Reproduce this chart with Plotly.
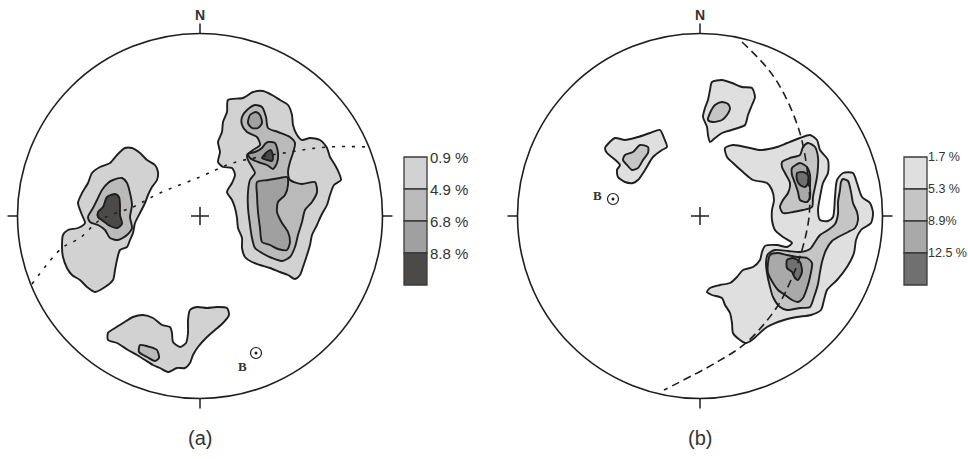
import plotly.graph_objects as go

# ---------------- data (net units: primitive circle radius R, centre at 0,0, north up) ----
R = 182.5

A_LEVEL_LABELS = ["0.9 %", "4.9 %", "6.8 %", "8.8 %"]
B_LEVEL_LABELS = ["1.7 %", "5.3 %", "8.9%", "12.5 %"]
A_COLORS = ["#d2d2d2", "#bababa", "#a0a0a0", "#4c4949"]
B_COLORS = ["#dfdfdf", "#c5c5c5", "#a9a9a9", "#707070"]

# ---- panel (a) contour outlines ----
a_west_1 = [(-68, 68), (-60, 63), (-53, 56), (-45, 51), (-42, 44), (-43, 36), (-48, 29), (-52, 21),
            (-55, 13), (-60, 3), (-65, -7), (-67, -17), (-70, -24), (-73, -31), (-80, -34), (-83, -44),
            (-85, -54), (-87, -64), (-95, -71), (-105, -76), (-113, -71), (-120, -64), (-128, -59),
            (-133, -52), (-137, -41), (-138, -31), (-137, -19), (-132, -14), (-122, -12), (-115, -7),
            (-118, 1), (-122, 13), (-118, 23), (-112, 33), (-108, 43), (-100, 49), (-90, 53),
            (-83, 61), (-75, 68)]
a_west_2 = [(-87, 36), (-78, 38), (-73, 33), (-70, 23), (-68, 11), (-70, -1), (-68, -12), (-73, -19),
            (-82, -24), (-90, -22), (-95, -14), (-102, -9), (-110, -6), (-112, -1), (-107, 8),
            (-103, 16), (-98, 26), (-92, 33)]
a_west_4 = [(-93, 19), (-85, 22), (-81, 19), (-80, 11), (-80, 1), (-78, -8), (-83, -12), (-90, -10),
            (-97, -5), (-102, -1), (-102, 4), (-97, 9)]

a_east_1 = [(28, 116), (43, 118), (53, 124), (63, 125), (72, 121), (80, 116), (88, 111), (92, 101),
            (93, 91), (97, 81), (102, 76), (110, 78), (120, 76), (127, 68), (130, 59), (135, 51),
            (139, 43), (141, 36), (134, 31), (130, 21), (127, 11), (123, 4), (120, -2), (117, -9),
            (112, -19), (110, -29), (107, -39), (103, -51), (100, -59), (95, -63), (88, -59),
            (80, -56), (70, -52), (60, -49), (52, -46), (45, -41), (42, -32), (42, -22), (38, -12),
            (37, -2), (35, 8), (32, 16), (27, 24), (32, 33), (35, 41), (32, 48), (23, 49), (18, 54),
            (20, 64), (18, 74), (22, 84), (23, 94), (27, 104)]
a_east_2 = [(47, 106), (55, 111), (62, 109), (66, 99), (68, 88), (78, 84), (90, 79), (95, 73),
            (93, 63), (90, 54), (88, 44), (90, 36), (102, 32), (115, 34), (117, 24), (112, 14),
            (105, 6), (102, -6), (98, -19), (95, -31), (90, -41), (82, -45), (72, -42), (62, -37),
            (55, -32), (52, -22), (50, -9), (48, 8), (48, 24), (50, 36), (55, 43), (52, 49), (48, 56),
            (47, 61), (53, 66), (60, 71), (57, 79), (47, 84), (42, 91), (42, 99)]
a_east_3_top = [(50, 101), (56, 104), (60, 101), (62, 93), (58, 88), (52, 88), (48, 93)]
a_east_3_mid = [(68, 74), (75, 73), (78, 63), (77, 53), (73, 47), (67, 51), (58, 54), (50, 58),
                (48, 62), (55, 64), (62, 68), (65, 72)]
a_east_4 = [(67, 64), (71, 66), (73, 59), (72, 55), (67, 56), (62, 58), (64, 61)]
a_east_3_low = [(57, 34), (68, 36), (80, 38), (87, 39), (88, 31), (85, 21), (78, 14), (77, 4),
                (82, -7), (88, -16), (90, -26), (87, -34), (78, -33), (70, -29), (62, -26),
                (60, -12), (58, 4), (57, 21)]

a_south_1 = [(-67, -101), (-57, -99), (-47, -102), (-38, -109), (-30, -111), (-28, -117), (-27, -126),
             (-20, -131), (-14, -127), (-12, -117), (-12, -104), (-10, -94), (-3, -91), (7, -92),
             (17, -91), (27, -92), (29, -99), (23, -107), (15, -114), (7, -121), (-2, -131),
             (-7, -139), (-10, -147), (-15, -152), (-23, -152), (-32, -156), (-40, -152),
             (-47, -149), (-55, -144), (-63, -139), (-72, -134), (-83, -127), (-92, -124),
             (-92, -117), (-85, -112), (-77, -107)]
a_south_2 = [(-60, -129), (-50, -131), (-43, -134), (-41, -142), (-45, -145), (-53, -141), (-61, -136)]

A_CONTOURS = [(0, a_west_1), (1, a_west_2), (3, a_west_4),
              (0, a_east_1), (1, a_east_2), (2, a_east_3_top), (2, a_east_3_mid), (3, a_east_4),
              (2, a_east_3_low), (0, a_south_1), (1, a_south_2)]

A_GREAT_CIRCLE = [(-168, -68), (-138, -32), (-120, -22), (-100, -4), (-67, 9), (-40, 23), (0, 39),
                  (33, 53), (90, 64), (128, 69), (170, 69)]
A_POLE_B = (56, -137)

# ---- panel (b) contour outlines ----
b_nw_1 = [(-93, 71), (-85, 78), (-75, 76), (-62, 79), (-50, 83), (-40, 86), (-36, 78), (-33, 69),
          (-38, 66), (-47, 59), (-55, 46), (-62, 36), (-67, 33), (-75, 34), (-82, 39), (-83, 46),
          (-80, 51), (-87, 58), (-93, 63), (-95, 68)]
b_nw_2 = [(-75, 61), (-67, 64), (-60, 71), (-52, 69), (-52, 63), (-57, 56), (-62, 48), (-68, 46),
          (-73, 51), (-77, 56)]
b_n_1 = [(12, 134), (22, 136), (32, 133), (42, 129), (52, 128), (55, 119), (52, 111), (48, 101),
         (45, 91), (38, 88), (28, 85), (22, 83), (15, 78), (10, 74), (8, 81), (7, 89), (3, 99),
         (5, 108), (8, 116), (10, 126)]
b_n_2 = [(15, 111), (22, 114), (28, 112), (30, 108), (27, 101), (22, 96), (13, 94), (8, 96), (10, 103)]

b_e_1 = [(25, 68), (33, 71), (50, 68), (60, 66), (77, 69), (87, 73), (100, 78), (110, 81), (117, 76),
         (120, 66), (128, 56), (128, 43), (123, 33), (120, 19), (118, 6), (120, -4), (128, -5),
         (133, -1), (135, 19), (137, 36), (143, 43), (153, 43), (157, 33), (162, 19), (170, 13),
         (173, 3), (171, -7), (161, -14), (156, -24), (154, -37), (147, -51), (137, -64),
         (127, -74), (124, -84), (121, -94), (111, -99), (97, -101), (84, -104), (67, -111),
         (52, -124), (46, -127), (40, -124), (33, -117), (32, -107), (30, -97), (25, -89),
         (22, -82), (12, -79), (7, -76), (10, -72), (20, -69), (30, -67), (37, -61), (43, -54),
         (53, -51), (60, -44), (62, -36), (65, -30), (77, -29), (87, -31), (92, -27), (83, -21),
         (75, -14), (72, -4), (72, 6), (74, 16), (72, 26), (67, 33), (53, 36), (43, 44), (33, 53),
         (27, 59)]
b_e_2_upper = [(82, 54), (90, 58), (100, 61), (103, 69), (108, 73), (115, 69), (118, 59), (118, 49),
               (117, 39), (115, 29), (113, 19), (112, 9), (103, 6), (93, 4), (83, 3), (80, 9),
               (83, 16), (88, 23), (90, 33), (85, 43), (82, 49)]
b_e_2_lower = [(143, 37), (148, 35), (151, 24), (153, 13), (157, 4), (158, -4), (155, -12),
               (148, -16), (140, -20), (132, -25), (126, -34), (122, -46), (120, -56), (118, -68),
               (114, -81), (110, -91), (100, -92), (87, -94), (80, -91), (73, -81), (70, -71),
               (67, -57), (66, -47), (68, -38), (75, -34), (88, -35), (100, -36), (110, -33),
               (115, -26), (120, -19), (128, -14), (135, -8), (138, 2), (138, 14), (140, 26),
               (141, 34)]
b_e_3_upper = [(92, 48), (100, 53), (107, 49), (110, 41), (110, 29), (110, 19), (107, 14), (100, 16),
               (98, 24), (95, 33), (92, 41)]
b_e_3_lower = [(70, -39), (77, -37), (87, -39), (97, -41), (107, -42), (112, -47), (110, -61),
               (107, -72), (103, -82), (98, -86), (92, -84), (85, -79), (78, -74), (73, -67),
               (68, -57), (68, -47)]
b_e_4_upper = [(97, 43), (103, 44), (108, 41), (108, 33), (105, 29), (100, 31), (97, 36)]
b_e_4_lower = [(87, -44), (93, -42), (100, -46), (102, -56), (98, -64), (95, -62), (92, -56), (87, -52)]

B_CONTOURS = [(0, b_nw_1), (1, b_nw_2), (0, b_n_1), (1, b_n_2),
              (0, b_e_1), (1, b_e_2_upper), (1, b_e_2_lower), (2, b_e_3_upper), (2, b_e_3_lower),
              (3, b_e_4_upper), (3, b_e_4_lower)]

B_GREAT_CIRCLE = [(42, 174), (74, 139), (99, 86), (109, 29), (109, -1), (102, -34), (91, -64),
                  (77, -91), (47, -126), (17, -146), (-36, -174)]
B_POLE_B = (-87, 17)

# ---------------- figure ----------------
W, H = 968, 459
fig = go.Figure()

LINE = "#1e1e1e"
TEXT = "#333333"


def add_panel(xa, ya, contours, colors, labels, great, great_dash, pole, b_shift, title,
              key_font, key_gap):
    xr, yr = xa, ya
    for lvl, pts in contours:
        xs = [p[0] for p in pts] + [pts[0][0]]
        ys = [p[1] for p in pts] + [pts[0][1]]
        fig.add_trace(go.Scatter(x=xs, y=ys, mode="lines", fill="toself", fillcolor=colors[lvl],
                                 line=dict(color=LINE, width=1.9, shape="spline", smoothing=0.7),
                                 hoverinfo="skip", showlegend=False, xaxis=xr, yaxis=yr))
    fig.add_trace(go.Scatter(x=[p[0] for p in great], y=[p[1] for p in great], mode="lines",
                             line=dict(color=LINE, width=1.6, dash=great_dash, shape="spline"),
                             hoverinfo="skip", showlegend=False, xaxis=xr, yaxis=yr))
    # pole B
    fig.add_trace(go.Scatter(x=[pole[0]], y=[pole[1]], mode="markers",
                             marker=dict(symbol="circle-open", size=11, color=LINE, line=dict(width=1.2)),
                             hoverinfo="skip", showlegend=False, xaxis=xr, yaxis=yr))
    fig.add_trace(go.Scatter(x=[pole[0]], y=[pole[1]], mode="markers",
                             marker=dict(symbol="circle", size=3, color=LINE),
                             hoverinfo="skip", showlegend=False, xaxis=xr, yaxis=yr))
    xref, yref = xr, yr
    fig.add_annotation(x=pole[0], y=pole[1], xref=xref, yref=yref, text="<b>B</b>", showarrow=False,
                       xshift=b_shift[0], yshift=b_shift[1],
                       font=dict(family="Liberation Serif", size=13, color=TEXT))
    # primitive circle, centre cross, ticks
    fig.add_shape(type="circle", xref=xref, yref=yref, x0=-R, y0=-R, x1=R, y1=R,
                  line=dict(color=LINE, width=1.6))
    c = 9
    t = 10
    for (x0, y0, x1, y1) in [(-c, 0, c, 0), (0, -c, 0, c), (-R - t, 0, -R, 0), (R, 0, R + t, 0),
                             (0, R, 0, R + t), (0, -R - t, 0, -R)]:
        fig.add_shape(type="line", xref=xref, yref=yref, x0=x0, y0=y0, x1=x1, y1=y1,
                      line=dict(color=LINE, width=1.5))
    fig.add_annotation(x=0, y=R + 19, xref=xref, yref=yref, text="<b>N</b>", showarrow=False,
                       font=dict(family="Liberation Sans", size=14, color=TEXT))
    fig.add_annotation(x=0, y=-222, xref=xref, yref=yref, text=title, showarrow=False,
                       font=dict(family="Liberation Sans", size=20, color=TEXT))
    # contour-level key
    kx0, kw, ktop, kh = 204, 23, 59, 32
    for i, col in enumerate(colors):
        fig.add_shape(type="rect", xref=xref, yref=yref, x0=kx0, x1=kx0 + kw,
                      y0=ktop - (i + 1) * kh, y1=ktop - i * kh,
                      fillcolor=col, line=dict(color="#3a3a3a", width=1.3))
        fig.add_annotation(x=kx0 + kw + key_gap, y=ktop - i * kh, xref=xref, yref=yref, text=labels[i],
                           showarrow=False, xanchor="left", yanchor="middle", borderpad=0,
                           font=dict(family="Liberation Sans", size=key_font, color=TEXT))


add_panel("x", "y", A_CONTOURS, A_COLORS, A_LEVEL_LABELS, A_GREAT_CIRCLE, "3px,7px",
          A_POLE_B, (-14, -13), "(a)", 15, 2)
add_panel("x2", "y2", B_CONTOURS, B_COLORS, B_LEVEL_LABELS, B_GREAT_CIRCLE, "8px,5px",
          B_POLE_B, (-16, 4), "(b)", 12.5, 0)

ax_common = dict(visible=False, showgrid=False, zeroline=False, fixedrange=True)
fig.update_layout(
    width=W, height=H, margin=dict(l=0, r=0, t=0, b=0),
    paper_bgcolor="white", plot_bgcolor="white", showlegend=False,
    xaxis=dict(domain=[0, 0.5], range=[-200, 284], **ax_common),
    yaxis=dict(domain=[0, 1], range=[-243, 216], anchor="x", **ax_common),
    xaxis2=dict(domain=[0.5, 1], range=[-216, 268], anchor="y2", **ax_common),
    yaxis2=dict(domain=[0, 1], range=[-243, 216], anchor="x2", **ax_common),
)

fig.write_html("out.html", config={"displayModeBar": False},
               post_script="document.body.style.margin='0';document.body.style.overflow='hidden';")
